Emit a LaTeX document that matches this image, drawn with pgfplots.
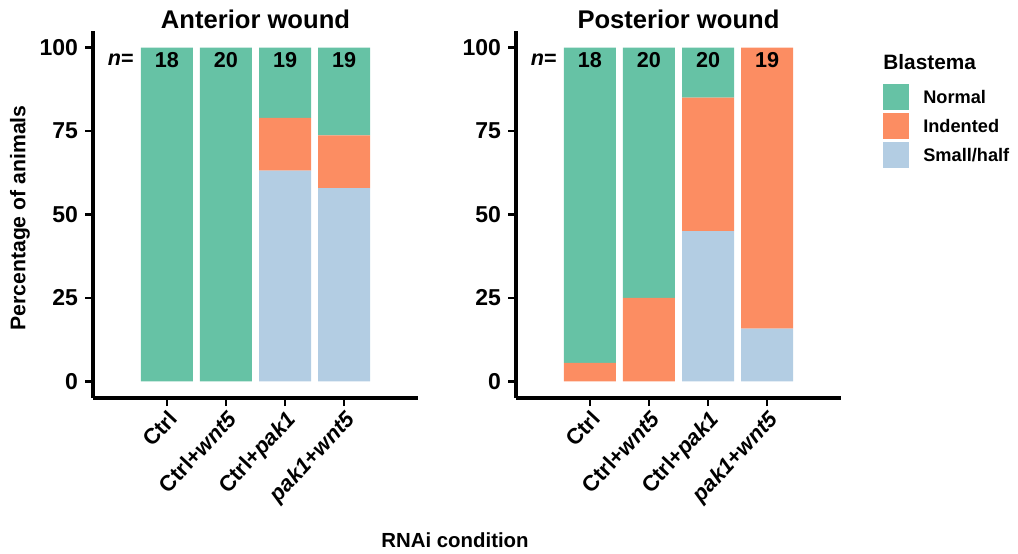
\documentclass[border=0pt]{standalone}
\usepackage{fontspec}
\setmainfont{Liberation Sans}
\usepackage{pgfplots}
\pgfplotsset{compat=1.18}
\definecolor{cnorm}{HTML}{66C2A5}
\definecolor{cind}{HTML}{FC8D62}
\definecolor{csmall}{HTML}{B3CDE3}
\tikzset{nlab/.style={font=\bfseries\fontsize{10.8}{12}\selectfont, inner sep=0pt, text=black}}
\pgfplotsset{
 panel/.style={
  scale only axis, width=162.5pt, height=183.5pt,
  xmin=-1.25, xmax=4.25, ymin=-5, ymax=105,
  axis lines=left, axis line style={-, line width=2pt},
  ybar stacked, bar width=0.88,
  xtick={0,1,2,3},
  xticklabels={Ctrl, Ctrl+\textit{wnt5}, Ctrl+\textit{pak1}, \textit{pak1}+\textit{wnt5}},
  ytick={0,25,50,75,100},
  tick align=outside, major tick length=4pt, tick style={line width=1.3pt, black},
  xticklabel style={rotate=47, anchor=north east, inner sep=1pt, font=\bfseries\fontsize{11}{12}\selectfont},
  yticklabel style={font=\bfseries\fontsize{11.5}{13}\selectfont},
  /pgf/number format/assume math mode=true,
  title style={at={(0.5,1)}, anchor=base, yshift=-4.5pt, font=\bfseries\fontsize{12.8}{15}\selectfont},
 }
}
\begin{document}
\begin{tikzpicture}
\path[use as bounding box] (0,0) rectangle (509pt,276.5pt);
\begin{axis}[panel, at={(46.5pt,77.5pt)}, anchor=south west, title={Anterior wound}]
\addplot[fill=csmall, draw=none] coordinates {(0,0) (1,0) (2,63.16) (3,57.89)};
\addplot[fill=cind, draw=none] coordinates {(0,0) (1,0) (2,15.79) (3,15.79)};
\addplot[fill=cnorm, draw=none] coordinates {(0,100) (1,100) (2,21.05) (3,26.32)};
\coordinate (An) at (axis cs:-0.78,96.4);
\coordinate (A0) at (axis cs:0,96.4);
\coordinate (A1) at (axis cs:1,96.4);
\coordinate (A2) at (axis cs:2,96.4);
\coordinate (A3) at (axis cs:3,96.4);
\end{axis}
\begin{axis}[panel, at={(258pt,77.5pt)}, anchor=south west, title={Posterior wound},
  reverse legend,
  legend image code/.code={\fill[#1] (0pt,-3.2pt) rectangle (13pt,9.8pt);},
  legend style={at={(axis description cs:1.129,0.856)}, anchor=north west, draw=none, fill=none,
    inner sep=0pt, row sep=1.5pt, column sep=7pt,
    nodes={inner sep=0pt, anchor=base west, font=\bfseries\fontsize{9.1}{11}\selectfont}},
  ]
\addplot[fill=csmall, draw=none] coordinates {(0,0) (1,0) (2,45) (3,15.79)};
\addlegendentry{Small/half}
\addplot[fill=cind, draw=none] coordinates {(0,5.56) (1,25) (2,40) (3,84.21)};
\addlegendentry{Indented}
\addplot[fill=cnorm, draw=none] coordinates {(0,94.44) (1,75) (2,15) (3,0)};
\addlegendentry{Normal}
\coordinate (Pn) at (axis cs:-0.78,96.4);
\coordinate (P0) at (axis cs:0,96.4);
\coordinate (P1) at (axis cs:1,96.4);
\coordinate (P2) at (axis cs:2,96.4);
\coordinate (P3) at (axis cs:3,96.4);
\end{axis}
\node[nlab] at (An) {\textit{n}=};
\node[nlab] at (A0) {18};
\node[nlab] at (A1) {20};
\node[nlab] at (A2) {19};
\node[nlab] at (A3) {19};
\node[nlab] at (Pn) {\textit{n}=};
\node[nlab] at (P0) {18};
\node[nlab] at (P1) {20};
\node[nlab] at (P2) {20};
\node[nlab] at (P3) {19};
\node[anchor=west, inner sep=0pt, font=\bfseries\fontsize{10.4}{12}\selectfont] at (441.5pt,245.5pt) {Blastema};
\node[font=\bfseries\fontsize{10.2}{12}\selectfont, inner sep=0pt] at (227.5pt,6.5pt) {RNAi condition};
\node[rotate=90, font=\bfseries\fontsize{10.6}{12}\selectfont, inner sep=0pt] at (10pt,167.5pt) {Percentage of animals};
\end{tikzpicture}
\end{document}
